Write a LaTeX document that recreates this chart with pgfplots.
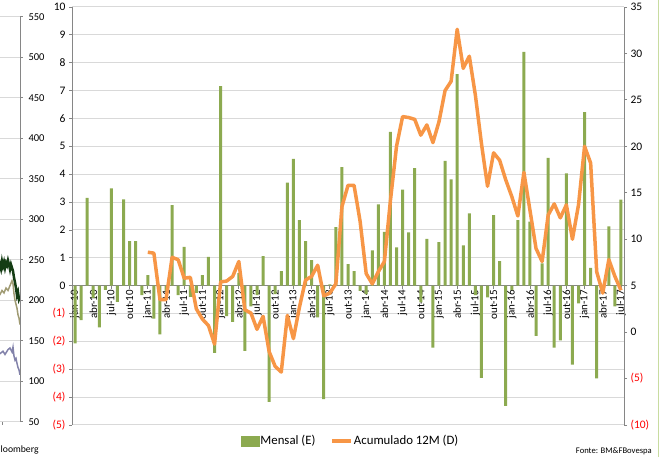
\documentclass[border=0pt]{standalone}
\usepackage{pgfplots}
\pgfplotsset{compat=1.18}
\usepackage{fontspec}
\setmainfont{Carlito}
\definecolor{barg}{RGB}{140,170,80}
\definecolor{lineo}{RGB}{247,150,70}
\definecolor{gridc}{RGB}{217,217,217}
\definecolor{axc}{RGB}{134,134,134}
\definecolor{dkgreen}{RGB}{20,60,20}
\definecolor{khaki}{RGB}{160,155,115}
\definecolor{purp}{RGB}{130,130,170}
\definecolor{edgeg}{RGB}{200,220,160}
\begin{document}
\begin{tikzpicture}
\path[use as bounding box] (0,0) rectangle (660pt,457pt);
% partial chart on the left (cut off)
\begin{axis}[at={(-200pt,35.3pt)}, anchor=south west, scale only axis,
  width=220pt, height=405pt, xmin=-200, xmax=20, ymin=50, ymax=550,
  axis y line*=right, axis x line*=bottom,
  ytick={50,100,...,550}, yticklabels={50,100,150,200,250,300,350,400,450,500,550},
  xtick={2}, xticklabels={},
  ymajorgrids, grid style={gridc, line width=1pt},
  y axis line style={axc, line width=0.8pt}, x axis line style={gridc, line width=1pt},
  tick style={axc, line width=0.8pt}, tick align=outside, major tick length=3pt,
  yticklabel style={font=\fontsize{10.5}{12}\selectfont, anchor=west, xshift=2pt}]
\addplot[khaki, line width=1.5pt] coordinates {(-10,205) (-5,210) (0,207) (2,212) (4,209) (6,215) (8,212) (10,218) (12,224) (13,220) (14,208) (15,200) (16,195) (17,190) (18,182) (19,178) (20,170)};
\addplot[purp, line width=1.5pt] coordinates {(-10,128) (-5,132) (0,134) (3,137) (5,133) (8,139) (10,141) (12,136) (13,142) (14,131) (15,126) (16,128) (17,122) (18,117) (19,114) (20,108)};
\addplot[dkgreen, line width=2.5pt] coordinates {(-10,245) (-6,238) (-3,246) (-1,240) (0,244) (1,239) (2,248) (3,242) (4,247) (5,240) (6,246) (7,243) (8,249) (9,244) (10,238) (11,244) (12,240) (13,236) (14,228) (15,222) (16,215) (17,206) (18,210) (19,201) (20,204)};
\end{axis}
\node[anchor=base west, font=\fontsize{9.7}{11}\selectfont, inner sep=0pt] at (0.5pt,5pt) {loomberg};
% main chart, left axis with bars
\begin{axis}[at={(72pt,32pt)}, anchor=south west, scale only axis,
  width=552pt, height=418pt, xmin=-0.5, xmax=90.5, ymin=-5, ymax=10,
  axis y line*=left, axis x line*=middle,
  ytick={-5,...,10},
  yticklabels={\textcolor{red}{(5)},\textcolor{red}{(4)},\textcolor{red}{(3)},\textcolor{red}{(2)},\textcolor{red}{(1)},0,1,2,3,4,5,6,7,8,9,10},
  xtick={0,3,...,90},
  xticklabels={jan-10,abr-10,jul-10,out-10,jan-11,abr-11,jul-11,out-11,jan-12,abr-12,jul-12,out-12,jan-13,abr-13,jul-13,out-13,jan-14,abr-14,jul-14,out-14,jan-15,abr-15,jul-15,out-15,jan-16,abr-16,jul-16,out-16,jan-17,abr-17,jul-17},
  xticklabel style={rotate=90, anchor=east, font=\fontsize{11}{12}\selectfont, inner sep=1pt},
  yticklabel style={font=\fontsize{11.5}{13}\selectfont},
  ymajorgrids, grid style={gridc, line width=1pt},
  axis line style={axc, line width=0.8pt},
  tick style={axc, line width=0.8pt}, tick align=outside, major tick length=3pt,
  ybar, bar width=3pt]
\addplot[fill=barg, draw=none] coordinates {
(0,-2.07) (1,-1.24) (2,3.15) (3,-0.45) (4,-1.5) (5,-0.15) (6,3.49) (7,-0.58) (8,3.1) (9,1.6)
(10,1.6) (11,-0.34) (12,0.38) (13,-1.18) (14,-1.75) (15,-0.2) (16,2.89) (17,-0.34) (18,1.39) (19,-0.4)
(20,-0.26) (21,0.38) (22,1.03) (23,-2.41) (24,7.16) (25,-1.09) (26,-1.3) (27,0.45) (28,-2.34) (29,-0.74)
(30,-0.34) (31,1.06) (32,-4.17) (33,-0.3) (34,0.52) (35,3.7) (36,4.55) (37,2.35) (38,1.6) (39,0.92)
(40,-1.14) (41,-4.07) (42,0.05) (43,2.1) (44,4.25) (45,0.77) (46,0.52) (47,-0.19) (48,-0.3) (49,1.27)
(50,2.92) (51,1.93) (52,5.52) (53,1.37) (54,3.45) (55,1.91) (56,4.22) (57,-0.6) (58,1.68) (59,-2.22)
(60,1.56) (61,4.48) (62,3.81) (63,7.59) (64,1.45) (65,2.59) (66,-0.34) (67,-3.31) (68,-0.42) (69,2.53)
(70,0.88) (71,-4.31) (72,-0.16) (73,2.35) (74,8.39) (75,2.3) (76,-1.8) (77,0.8) (78,4.59) (79,-2.22)
(80,-1.96) (81,4.03) (82,-2.83) (83,-0.64) (84,6.23) (85,0.64) (86,-3.33) (87,-0.1) (88,2.13) (89,-0.74)
(90,3.09)};
\end{axis}
% main chart, right axis with line
\begin{axis}[at={(72pt,32pt)}, anchor=south west, scale only axis,
  width=552pt, height=418pt, xmin=-0.5, xmax=90.5, ymin=-10, ymax=35,
  axis y line*=right, hide x axis,
  ytick={-10,-5,...,35},
  yticklabels={\textcolor{red}{(10)},\textcolor{red}{(5)},0,5,10,15,20,25,30,35},
  yticklabel style={font=\fontsize{11.5}{13}\selectfont, anchor=west},
  axis line style={axc, line width=0.8pt},
  tick style={axc, line width=0.8pt}, tick align=outside, major tick length=3pt,
  legend columns=2,
  legend style={at={(0.504,-0.038)}, anchor=center, draw=none, fill=none,
    font=\fontsize{12.8}{14}\selectfont, inner sep=0pt,
    nodes={inner xsep=1pt}},
  legend cell align=left,
  /tikz/every even column/.append style={column sep=14pt}]
\addlegendimage{legend image code/.code={\fill[barg] (0pt,-5pt) rectangle (18pt,5pt);}}
\addlegendentry{Mensal (E)}
\addplot[lineo, line width=3.5pt, line join=round,
  legend image code/.code={\draw[lineo, line width=3.5pt] (0pt,0pt) -- (19pt,0pt);}] coordinates {
(12,8.6) (13,8.5) (14,3.5) (15,3.5) (16,8.05) (17,7.8) (18,5.8) (19,5.9)
(20,2.5) (21,1.4) (22,0.7) (23,-1.3) (24,5.4) (25,5.5) (26,6.0) (27,7.6) (28,2.4) (29,2.05)
(30,0.3) (31,1.7) (32,-2.1) (33,-3.7) (34,-4.3) (35,1.8) (36,-0.7) (37,2.7) (38,5.6) (39,6.0)
(40,7.2) (41,3.9) (42,4.2) (43,5.2) (44,13.5) (45,15.8) (46,15.8) (47,11.9) (48,6.3) (49,5.2)
(50,6.5) (51,7.6) (52,14.2) (53,20.0) (54,23.2) (55,23.1) (56,22.9) (57,21.2) (58,22.3) (59,20.4)
(60,22.65) (61,26.0) (62,27.0) (63,32.6) (64,28.4) (65,29.7) (66,25.5) (67,20.3) (68,15.7) (69,19.3)
(70,18.5) (71,16.4) (72,14.6) (73,12.5) (74,17.2) (75,13.1) (76,9.0) (77,7.6) (78,12.6) (79,13.8)
(80,12.3) (81,13.7) (82,10.0) (83,13.7) (84,20.0) (85,18.2) (86,6.5) (87,4.2) (88,7.8) (89,6.0)
(90,4.5)};
\addlegendentry{Acumulado 12M (D)}
\end{axis}
\node[anchor=base east, font=\fontsize{8.6}{10}\selectfont, inner sep=0pt] at (652pt,4pt) {Fonte: BM\&FBovespa};
\draw[edgeg, line width=1pt] (658pt,0pt) -- (658pt,457pt);
\end{tikzpicture}
\end{document}
